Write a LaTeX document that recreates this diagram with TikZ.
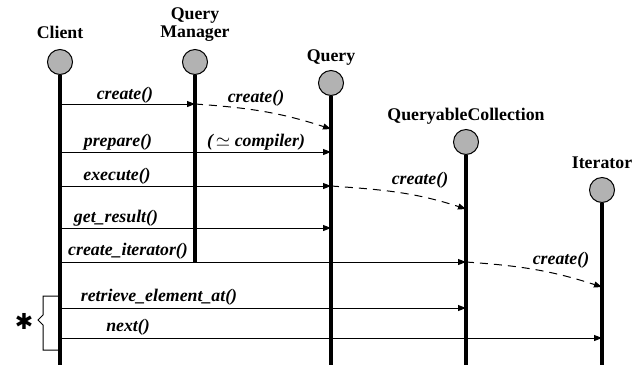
\documentclass[tikz,border=0pt]{standalone}
\usepackage{fontspec}
\setmainfont{Liberation Serif}
\newfontfamily\symfont{DejaVu Sans}
\usetikzlibrary{arrows.meta}
\begin{document}
\begin{tikzpicture}[x=0.5pt,y=-0.5pt,
  obj/.style={circle,draw=black,line width=0.5pt,fill=gray!60,minimum size=12.5pt,inner sep=0pt},
  title/.style={font=\fontsize{8.9}{10}\selectfont\bfseries,align=center,inner sep=0pt},
  lab/.style={font=\fontsize{8.9}{10}\selectfont\bfseries\itshape,inner sep=0pt},
  life/.style={line width=1.6pt},
  msg/.style={line width=0.5pt,-{Triangle[length=4pt,width=3pt]}},
  cre/.style={line width=0.5pt,dash pattern=on 4pt off 3pt,-{Triangle[length=4pt,width=3pt]}}]
\useasboundingbox (0,0) rectangle (636,365);
% objects
\node[obj] (cl) at (60,62) {};
\node[obj] (qm) at (195,62) {};
\node[obj] (q) at (331,83) {};
\node[obj] (qc) at (466,142) {};
\node[obj] (it) at (602,190) {};
\node[title] (tcl) at (60,32) {Client};
\node[title] (tqm) at (195,25) {Query\\[-1pt]Manager};
\node[title] (tq) at (331,58) {Query};
\node[title] (tqc) at (466,116) {QueryableCollection};
\node[title] (tit) at (602,163) {Iterator};
% lifeline ends
\coordinate (cle) at (60,365);
\coordinate (qme) at (195,262);
\coordinate (qe) at (331,365);
\coordinate (qce) at (466,365);
\coordinate (ite) at (602,365);
\draw[life] (cl) -- (cle);
\draw[life] (qm) -- (qme);
\draw[life] (q) -- (qe);
\draw[life] (qc) -- (qce);
\draw[life] (it) -- (ite);
% messages
\draw[msg] (cl |- 0,104) coordinate (a1) -- (qm |- 0,104) coordinate (b1);
\node[lab] at (125,95) {create()};
\coordinate (b1q) at (331,129);
\draw[cre] (b1) to[out=-4,in=162] (b1q);
\node[lab] at (256,98) {create()};

\draw[msg] (cl |- 0,152) -- (q |- 0,152);
\node[lab] at (118,142) {prepare()};
\node[lab] at (256,142) {(\,$\simeq$ compiler)};

\draw[msg] (cl |- 0,186) -- (q |- 0,186) coordinate (b3);
\node[lab] at (117,176) {execute()};
\coordinate (b3q) at (466,209);
\draw[cre] (b3) to[out=-4,in=162] (b3q);
\node[lab] at (420,180) {create()};

\draw[msg] (cl |- 0,228) -- (q |- 0,228);
\node[lab] at (116,218) {get\_result()};

\draw[msg] (cl |- 0,262) -- (qc |- 0,262) coordinate (b5);
\node[lab] at (128,251) {create\_iterator()};
\coordinate (b5q) at (602,287);
\draw[cre] (b5) to[out=-4,in=162] (b5q);
\node[lab] at (561,260) {create()};

\draw[msg] (cl |- 0,308) -- (qc |- 0,308);
\node[lab] at (159,297) {retrieve\_element\_at()};

\draw[msg] (cl |- 0,338) -- (it |- 0,338);
\node[lab] at (128,327) {next()};
% loop brace
\coordinate (br1) at (58,296);
\coordinate (br2) at (58,350);
\draw[line width=0.5pt] (br1) -- (43,296) -- (43,315) -- (38,320) -- (43,325) -- (43,350) -- (br2);
\node[font=\symfont\fontsize{11}{12}\selectfont,inner sep=0pt] (star) at (24,321) {✱};
\end{tikzpicture}
\end{document}
